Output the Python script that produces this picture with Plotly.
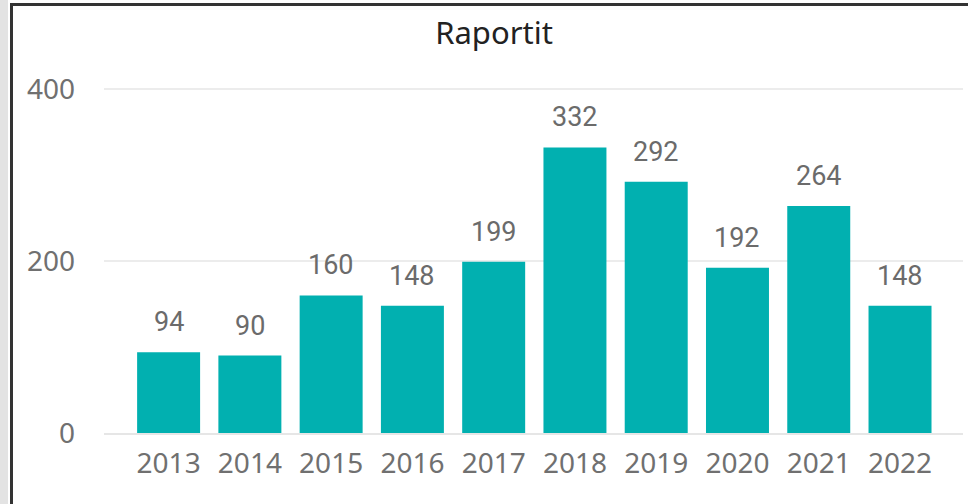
import plotly.graph_objects as go

years = ["2013", "2014", "2015", "2016", "2017", "2018", "2019", "2020", "2021", "2022"]
reports = [94, 90, 160, 148, 199, 332, 292, 192, 264, 148]
y_ticks = [0, 200, 400]

W, H = 968, 504
ML, MR, MT, MB = 104, 5, 60, 71
PW, PH = W - ML - MR, H - MT - MB

def px_x(p):
    return (p - ML) / PW

def px_y(p):
    return (H - MB - p) / PH

BAR = "#01B0B0"

fig = go.Figure()
fig.add_trace(go.Bar(x=list(range(len(years))), y=reports, marker_color=BAR,
                     marker_line_width=0, hoverinfo="x+y"))

annotations = []
for i, v in enumerate(reports):
    annotations.append(dict(x=i, y=v, xref="x", yref="y", text=str(v), showarrow=False,
                            yanchor="middle", yshift=30,
                            font=dict(family="Roboto, DejaVu Sans", size=27, color="#6b6b6b")))

shapes = [
    dict(type="rect", xref="paper", yref="paper", x0=px_x(0), x1=px_x(8), y0=px_y(H), y1=px_y(0),
         fillcolor="#e3e3e3", line_width=0, layer="below"),
    dict(type="line", xref="paper", yref="paper", x0=px_x(11.5), x1=px_x(11.5), y0=px_y(H), y1=px_y(4),
         line=dict(color="#333333", width=3)),
    dict(type="line", xref="paper", yref="paper", x0=px_x(10), x1=px_x(W), y0=px_y(4.5), y1=px_y(4.5),
         line=dict(color="#333333", width=3)),
]

fig.update_layout(
    width=W, height=H,
    margin=dict(l=ML, r=MR, t=MT, b=MB, pad=0),
    paper_bgcolor="white", plot_bgcolor="white",
    title=dict(text="Raportit", x=494 / W, xref="container", xanchor="center",
               y=1 - 33 / H, yref="container", yanchor="middle",
               font=dict(family="Noto Sans, Open Sans", size=31, color="#222222")),
    bargap=0.225,
    showlegend=False,
    annotations=annotations,
    shapes=shapes,
    xaxis=dict(tickmode="array", tickvals=list(range(len(years))), ticktext=years,
               range=[-0.795, 9.775], showgrid=False, zeroline=False,
               showline=True, linecolor="#e6e6e6", linewidth=2,
               ticks="", ticklabelstandoff=4,
               tickfont=dict(family="Noto Sans, Open Sans", size=28, color="#707070")),
    yaxis=dict(tickmode="array", tickvals=y_ticks, ticktext=[str(t) for t in y_ticks],
               range=[0, 433.7], showgrid=True, gridcolor="#ececec", gridwidth=2,
               zeroline=False, showline=False, ticks="", ticklabelstandoff=28,
               tickfont=dict(family="Noto Sans, Open Sans", size=28, color="#707070")),
)

fig.write_html("out.html", config={"displayModeBar": False},
               post_script="document.body.style.margin='0';document.body.style.overflow='hidden';")
